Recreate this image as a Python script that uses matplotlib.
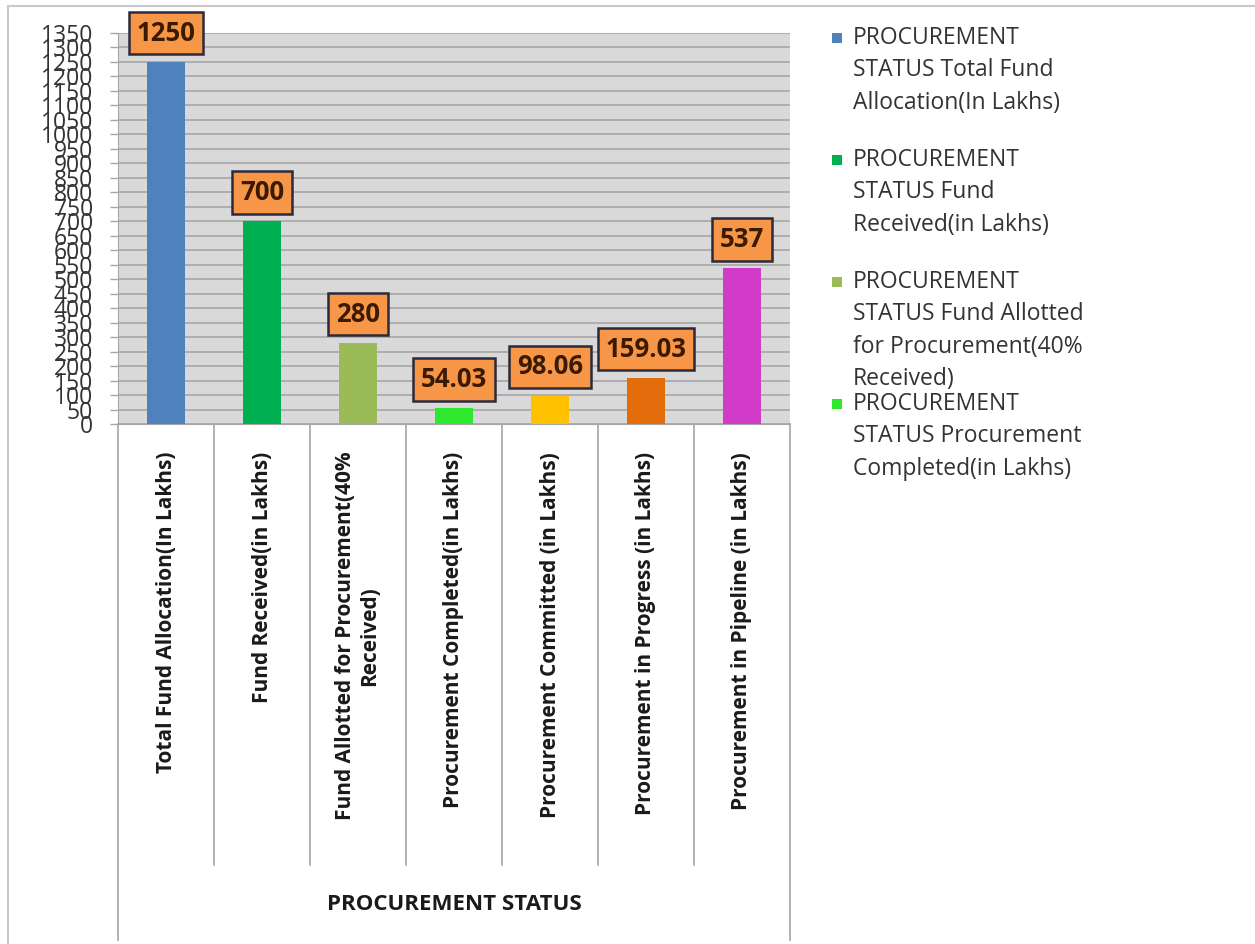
import matplotlib
matplotlib.use("Agg")
import matplotlib.pyplot as plt
from matplotlib.patches import Rectangle
from matplotlib.lines import Line2D
import matplotlib.transforms as mtransforms

categories = [
    "Total Fund Allocation(In Lakhs)",
    "Fund Received(in Lakhs)",
    "Fund Allotted for Procurement(40%\nReceived)",
    "Procurement Completed(in Lakhs)",
    "Procurement Committed (in Lakhs)",
    "Procurement in Progress (in Lakhs)",
    "Procurement in Pipeline (in Lakhs)",
]
values = [1250, 700, 280, 54.03, 98.06, 159.03, 537]
value_labels = ["1250", "700", "280", "54.03", "98.06", "159.03", "537"]
colors = ["#4f81bd", "#00b050", "#9bbb59", "#2ee82e", "#ffc000", "#e46c0a", "#d23ac8"]
legend_labels = [
    "PROCUREMENT\nSTATUS Total Fund\nAllocation(In Lakhs)",
    "PROCUREMENT\nSTATUS Fund\nReceived(in Lakhs)",
    "PROCUREMENT\nSTATUS Fund Allotted\nfor Procurement(40%\nReceived)",
    "PROCUREMENT\nSTATUS Procurement\nCompleted(in Lakhs)",
]
axis_title = "PROCUREMENT STATUS"
y_ticks = list(range(0, 1351, 50))

W, H = 1255, 944
fig = plt.figure(figsize=(W / 100, H / 100), dpi=100)
fig.patch.set_facecolor("white")

# chart border
fig.add_artist(Rectangle((8 / W, -0.01), 1.2, 1 - 6 / H + 0.01, transform=fig.transFigure,
                         fill=False, edgecolor="#c8c8c8", linewidth=1.5))

ax = fig.add_axes([118 / W, 1 - 424 / H, (790 - 118) / W, (424 - 33) / H])
ax.set_facecolor("#d9d9d9")
x = list(range(len(categories)))
ax.bar(x, values, width=0.4, color=colors, zorder=3)
ax.set_xlim(-0.5, len(categories) - 0.5)
ax.set_ylim(0, 1350)
ax.set_yticks(y_ticks)
ax.set_yticklabels([str(t) for t in y_ticks], fontsize=16.5, color="#333333", family="Open Sans")
ax.yaxis.grid(True, color="#a6a6a6", linewidth=1.2, zorder=0)
ax.set_axisbelow(True)
ax.tick_params(axis="y", length=6, width=1, color="#a6a6a6", pad=12)
ax.set_xticks(x)
ax.set_xticklabels(categories, rotation=90, fontsize=15, fontweight="bold", family="Open Sans",
                   color="#1a1a1a", va="top", ha="center", multialignment="center")
ax.tick_params(axis="x", length=0, pad=20)
for s in ["top", "right"]:
    ax.spines[s].set_visible(False)
ax.spines["left"].set_color("#a6a6a6")
ax.spines["bottom"].set_color("#a6a6a6")

# data labels
for xi, v, lab in zip(x, values, value_labels):
    ax.annotate(lab, (xi, v), xytext=(0, 11), textcoords="offset points", ha="center", va="bottom",
                fontsize=18.5, fontweight="bold", family="Open Sans", color="#3a1a00", zorder=5,
                bbox=dict(boxstyle="square,pad=0.3", facecolor="#f79646", edgecolor="#2b2b3b", linewidth=1.8))

# category separators below axis
trans = mtransforms.blended_transform_factory(ax.transData, ax.transAxes)
for i in range(len(categories) + 1):
    xp = i - 0.5
    y_end = -1.32 if i in (0, len(categories)) else -1.128
    ax.add_line(Line2D([xp, xp], [0, y_end], transform=trans, color="#a6a6a6", linewidth=1.2, clip_on=False))

fig.text(454 / W, 1 - 905 / H, axis_title, ha="center", va="center", fontsize=16,
         fontweight="bold", family="Open Sans", color="#1a1a1a")

# legend (manual, mimicking Excel's truncated legend)
line_pitch = 32.3
for i, (lab, c) in enumerate(zip(legend_labels, colors)):
    y0 = 38 + i * 122
    fig.add_artist(Rectangle((832 / W, 1 - (y0 + 5) / H), 10 / W, 10 / H, transform=fig.transFigure,
                             facecolor=c, edgecolor="none"))
    for j, line in enumerate(lab.split("\n")):
        fig.text(853 / W, 1 - (y0 + j * line_pitch) / H, line, ha="left", va="center",
                 fontsize=16.5, family="Open Sans", color="#333333")

fig.savefig("out.png", dpi=100)
